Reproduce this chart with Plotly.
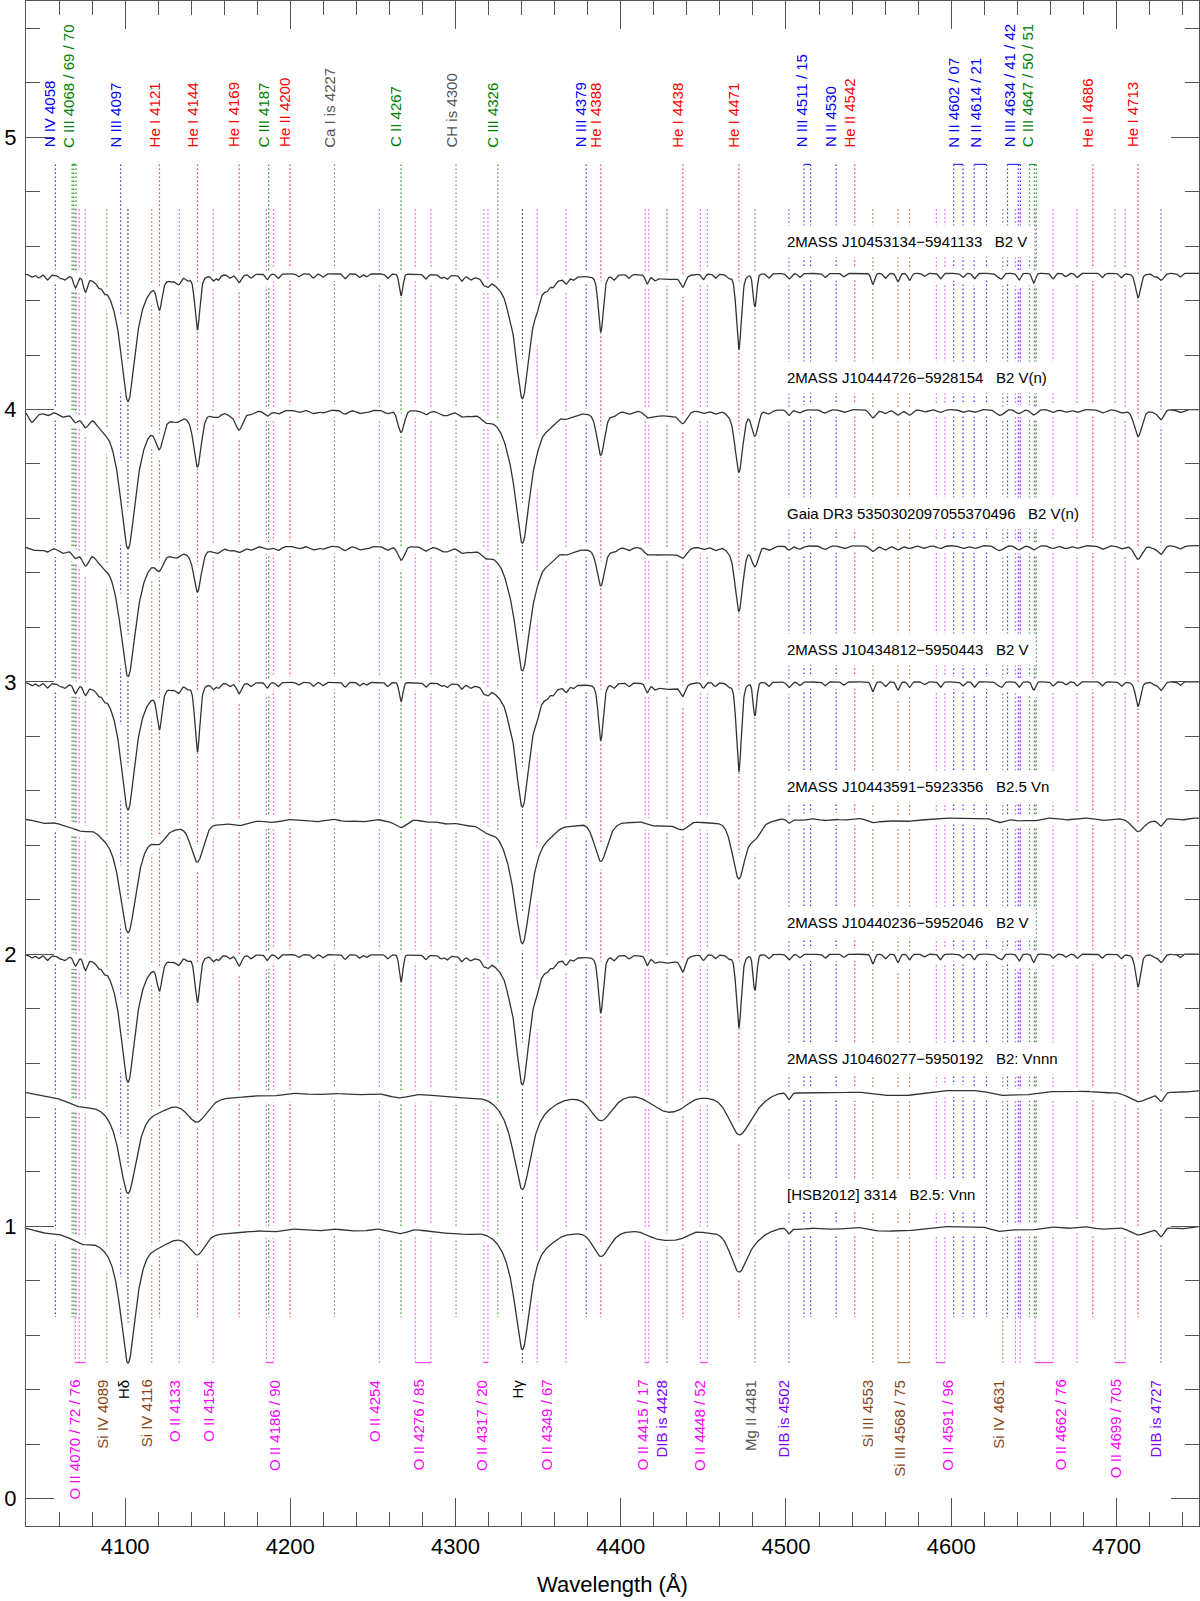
import numpy as np
import plotly.graph_objects as go

# ---- stars (top to bottom) ----
star_names = ["2MASS J10453134\u22125941133", "2MASS J10444726\u22125928154",
              "Gaia DR3 5350302097055370496", "2MASS J10434812\u22125950443",
              "2MASS J10443591\u22125923356", "2MASS J10440236\u22125952046",
              "2MASS J10460277\u22125950192", "[HSB2012] 3314"]
star_types = ["B2 V", "B2 V(n)", "B2 V(n)", "B2 V", "B2.5 Vn", "B2 V", "B2: Vnnn", "B2.5: Vnn"]
offsets = [4.5, 4.0, 3.5, 3.0, 2.5, 2.0, 1.5, 1.0]

# Balmer lines (Hdelta, Hgamma): central depth per star, Lorentz HWHM per star
balmer_wl = [4101.74, 4340.47]
balmer_depth = [[0.47, 0.46], [0.51, 0.49], [0.48, 0.46], [0.47, 0.46],
                [0.42, 0.46], [0.47, 0.48], [0.375, 0.36], [0.50, 0.45]]
balmer_hwhm = [5.5, 6.0, 6.0, 5.5, 6.5, 5.5, 7.0, 6.0]

# He I lines
hei_wl = [4120.8, 4143.76, 4168.97, 4387.93, 4437.55, 4471.5, 4713.1]
hei_depth = [[0.10, 0.20, 0.03, 0.21, 0.04, 0.28, 0.09],
             [0.10, 0.20, 0.07, 0.16, 0.04, 0.23, 0.10],
             [0.05, 0.16, 0.02, 0.14, 0.03, 0.24, 0.05],
             [0.14, 0.25, 0.04, 0.21, 0.04, 0.33, 0.09],
             [0.05, 0.15, 0.02, 0.15, 0.03, 0.22, 0.05],
             [0.10, 0.17, 0.04, 0.21, 0.05, 0.27, 0.12],
             [0.03, 0.10, 0.01, 0.10, 0.03, 0.15, 0.04],
             [0.03, 0.09, 0.01, 0.10, 0.02, 0.16, 0.03]]
hei_fwhm = [3.5, 5.5, 5.5, 3.5, 9.0, 3.5, 15.0, 12.0]

# metal lines
metal_wl = [4043.5, 4069.9, 4075.9, 4132.8, 4153.3, 4186.0, 4267.0, 4317.1, 4319.6,
            4349.4, 4366.9, 4416.0, 4450.0, 4481.2, 4552.6, 4567.8, 4574.8, 4593.5,
            4607.0, 4614.0, 4630.5, 4641.0, 4650.0, 4661.6, 4676.2, 4703.0]
metal_depth = [
    [0.01, 0.04, 0.05, 0.02, 0.02, 0.02, 0.08, 0.02, 0.02, 0.02, 0.02, 0.03, 0.02, 0.12,
     0.04, 0.03, 0.025, 0.02, 0.015, 0.02, 0.02, 0.025, 0.035, 0.02, 0.015, 0.015],
    [0.04, 0.03, 0.04, 0.01, 0.01, 0.02, 0.08, 0.01, 0.01, 0.01, 0.01, 0.02, 0.01, 0.09,
     0.03, 0.02, 0.02, 0.01, 0.01, 0.01, 0.015, 0.015, 0.02, 0.01, 0.01, 0.01],
    [0.01, 0.03, 0.05, 0.01, 0.01, 0.01, 0.05, 0.01, 0.01, 0.01, 0.01, 0.02, 0.01, 0.07,
     0.02, 0.015, 0.01, 0.01, 0.01, 0.01, 0.01, 0.015, 0.015, 0.01, 0.01, 0.01],
    [0.01, 0.03, 0.03, 0.02, 0.02, 0.02, 0.07, 0.02, 0.02, 0.02, 0.02, 0.03, 0.02, 0.12,
     0.035, 0.03, 0.02, 0.02, 0.015, 0.02, 0.02, 0.02, 0.03, 0.015, 0.015, 0.015],
    [0.0, 0.02, 0.02, 0.0, 0.0, 0.01, 0.03, 0.01, 0.01, 0.0, 0.0, 0.01, 0.01, 0.06,
     0.015, 0.01, 0.01, 0.0, 0.0, 0.0, 0.01, 0.01, 0.01, 0.0, 0.0, 0.0],
    [0.01, 0.03, 0.04, 0.02, 0.02, 0.02, 0.10, 0.02, 0.02, 0.02, 0.02, 0.03, 0.02, 0.13,
     0.035, 0.03, 0.02, 0.02, 0.015, 0.02, 0.02, 0.025, 0.03, 0.015, 0.015, 0.015],
    [0.0, 0.02, 0.02, 0.0, 0.0, 0.01, 0.02, 0.0, 0.0, 0.0, 0.0, 0.01, 0.01, 0.03,
     0.01, 0.01, 0.01, 0.0, 0.0, 0.0, 0.01, 0.01, 0.01, 0.0, 0.0, 0.0],
    [0.0, 0.02, 0.03, 0.0, 0.0, 0.01, 0.02, 0.0, 0.0, 0.0, 0.0, 0.01, 0.01, 0.03,
     0.01, 0.01, 0.01, 0.0, 0.0, 0.0, 0.01, 0.01, 0.01, 0.0, 0.0, 0.0]]
metal_fwhm = [2.5, 4.5, 4.5, 2.5, 8.0, 2.5, 14.0, 11.0]

# weak blends that give the continuum its ripple (relative strength), scaled per star
weak_wl = [4047.6, 4052.9, 4060.6, 4063.4, 4083.9, 4087.2, 4128.1, 4130.9, 4137.8, 4156.5,
           4163.3, 4176.2, 4192.5, 4205.0, 4213.9, 4219.7, 4233.1, 4241.8, 4246.0, 4258.9,
           4282.0, 4291.3, 4294.8, 4303.8, 4309.0, 4331.9, 4355.5, 4359.0, 4371.2, 4395.9,
           4405.0, 4420.6, 4457.2, 4465.4, 4489.5, 4508.3, 4523.6, 4535.0, 4560.1, 4583.8,
           4628.0, 4669.3, 4691.5, 4723.0, 4738.5]
weak_str = [0.8, 1.2, 0.7, 1.0, 0.9, 1.1, 0.6, 1.0, 0.7, 1.2, 0.8, 0.9, 1.1, 0.7, 1.0,
            0.8, 1.2, 0.9, 0.7, 1.0, 1.1, 0.8, 1.0, 1.2, 0.7, 0.9, 0.8, 1.0, 0.7, 1.1,
            0.9, 0.8, 1.0, 0.7, 1.1, 0.9, 1.0, 0.8, 1.2, 0.7, 0.9, 0.8, 1.0, 0.7, 0.9]
weak_depth = [0.015, 0.012, 0.013, 0.014, 0.008, 0.014, 0.007, 0.009]

# diffuse interstellar bands
dib_wl = [4428.0, 4501.8, 4727.0]
dib_fwhm = [18.0, 3.0, 4.0]
dib_depth = [[0.02, 0.02, 0.025], [0.02, 0.02, 0.035], [0.03, 0.015, 0.03], [0.025, 0.02, 0.03],
             [0.02, 0.015, 0.025], [0.03, 0.02, 0.03], [0.06, 0.025, 0.03], [0.04, 0.02, 0.03]]

# ---- line identifications: (label, colour key, wavelengths) ----
top_groups = [
    ("N IV 4058", "N", [4057.8]),
    ("C III 4068 / 69 / 70", "C", [4067.9, 4068.9, 4070.3]),
    ("N III 4097", "N", [4097.3]),
    ("He I 4121", "He", [4120.8]),
    ("He I 4144", "He", [4143.8]),
    ("He I 4169", "He", [4169.0]),
    ("C III 4187", "C", [4186.9]),
    ("He II 4200", "He", [4199.8]),
    ("Ca I is 4227", "gray", [4226.7]),
    ("C II 4267", "C", [4267.0]),
    ("CH is 4300", "gray", [4300.3]),
    ("C III 4326", "C", [4325.6]),
    ("N III 4379", "N", [4379.1]),
    ("He I 4388", "He", [4387.9]),
    ("He I 4438", "He", [4437.6]),
    ("He I 4471", "He", [4471.5]),
    ("N III 4511 / 15", "N", [4510.9, 4514.9]),
    ("N II 4530", "N", [4530.4]),
    ("He II 4542", "He", [4541.6]),
    ("N II 4602 / 07", "N", [4601.5, 4607.2]),
    ("N II 4614 / 21", "N", [4613.9, 4621.4]),
    ("N III 4634 / 41 / 42", "N", [4634.1, 4640.6, 4641.9]),
    ("C III 4647 / 50 / 51", "C", [4647.4, 4650.3, 4651.5]),
    ("He II 4686", "He", [4685.7]),
    ("He I 4713", "He", [4713.1]),
]
bottom_groups = [
    ("O II 4070 / 72 / 76", "O", [4069.9, 4072.2, 4075.9]),
    ("Si IV 4089", "Si", [4088.9]),
    ("H\u03b4", "H", [4101.7]),
    ("Si IV 4116", "Si", [4116.1]),
    ("O II 4133", "O", [4132.8]),
    ("O II 4154", "O", [4153.3]),
    ("O II 4186 / 90", "O", [4185.5, 4189.8]),
    ("O II 4254", "O", [4253.9]),
    ("O II 4276 / 85", "O", [4275.6, 4285.1]),
    ("O II 4317 / 20", "O", [4317.1, 4319.6]),
    ("H\u03b3", "H", [4340.5]),
    ("O II 4349 / 67", "O", [4349.4]),
    ("", "O", [4366.9]),
    ("O II 4415 / 17", "O", [4414.9, 4417.0]),
    ("DIB is 4428", "DIB", [4428.0]),
    ("O II 4448 / 52", "O", [4448.2, 4452.4]),
    ("Mg II 4481", "gray", [4481.2]),
    ("DIB is 4502", "DIB", [4501.8]),
    ("Si III 4553", "Si", [4552.6]),
    ("Si III 4568 / 75", "Si", [4567.8, 4574.8]),
    ("O II 4591 / 96", "O", [4591.0, 4596.2]),
    ("Si IV 4631", "Si", [4631.2]),
    ("", "O", [4638.9]),
    ("", "O", [4641.8]),
    ("", "O", [4650.8, 4661.6]),
    ("O II 4662 / 76", "O", [4676.2]),
    ("O II 4699 / 705", "O", [4699.2, 4705.3]),
    ("DIB is 4727", "DIB", [4727.0]),
]

colors = {"N": "#0000FF", "C": "#008000", "He": "#FF0000", "O": "#FF00FF",
          "Si": "#8B4513", "DIB": "#8000FF", "gray": "#555555", "H": "#000000"}
line_colors = {"N": "#3333FF", "C": "#229922", "He": "#FF3333", "O": "#FF44FF",
               "Si": "#A0703C", "DIB": "#9933FF", "gray": "#777777", "H": "#222222"}
label_nudge = {"O II 4186 / 90": 9, "O II 4591 / 96": 11, "O II 4349 / 67": 14,
               "O II 4662 / 76": -12}

TOP_Y0, TOP_Y1 = 4.90, 0.667
BOT_Y0, BOT_Y1 = 4.735, 0.50
FONT = "Liberation Sans, Arial, Helvetica, sans-serif"

wl = np.arange(4040.0, 4750.01, 0.25)


def gauss(x0, fwhm):
    s = fwhm / 2.3548
    return np.exp(-0.5 * ((wl - x0) / s) ** 2)


def lorentz(x0, hwhm):
    return 1.0 / (1.0 + ((wl - x0) / hwhm) ** 2)


def star_flux(i):
    f = np.ones_like(wl)
    for w, d in zip(balmer_wl, balmer_depth[i]):
        f -= d * lorentz(w, balmer_hwhm[i])
    for w, d in zip(hei_wl, hei_depth[i]):
        f -= d * (0.6 * gauss(w, hei_fwhm[i]) + 0.4 * lorentz(w, hei_fwhm[i] / 2))
    for w, d in zip(metal_wl, metal_depth[i]):
        f -= d * gauss(w, metal_fwhm[i])
    for w, s in zip(weak_wl, weak_str):
        f -= weak_depth[i] * s * gauss(w, metal_fwhm[i])
    for w, d, fw in zip(dib_wl, dib_depth[i], dib_fwhm):
        f -= d * gauss(w, fw)
    return f


fig = go.Figure()

# dotted identification lines, grouped by colour
for groups, y0, y1 in [(top_groups, TOP_Y0, TOP_Y1), (bottom_groups, BOT_Y0, BOT_Y1)]:
    per_color = {}
    for label, key, lams in groups:
        xs, ys = per_color.setdefault(key, ([], []))
        for lam in lams:
            xs += [lam, lam, None]
            ys += [y0, y1, None]
    for key, (xs, ys) in per_color.items():
        fig.add_trace(go.Scatter(x=xs, y=ys, mode="lines", hoverinfo="skip",
                                 line=dict(color=line_colors[key], width=1.2, dash="1.5px,2.5px")))
    # brackets joining multiplets
    for label, key, lams in groups:
        if len(lams) > 1:
            yb = y0 if groups is top_groups else y1
            fig.add_trace(go.Scatter(x=[min(lams), max(lams)], y=[yb, yb], mode="lines",
                                     hoverinfo="skip", line=dict(color=line_colors[key], width=1.2)))

fluxes = [star_flux(i) for i in range(len(offsets))]

# white halo under each spectrum
for i, off in enumerate(offsets):
    fig.add_trace(go.Scatter(x=wl, y=fluxes[i] + off - 1.0, mode="lines", hoverinfo="skip",
                             line=dict(color="white", width=12)))
for i, off in enumerate(offsets):
    fig.add_trace(go.Scatter(x=wl, y=fluxes[i] + off - 1.0, mode="lines",
                             line=dict(color="#333333", width=1.3), name=star_names[i]))

ann = []
for label, key, lams in top_groups:
    ann.append(dict(x=float(np.mean(lams)), y=4.955, xref="x", yref="y", text=label,
                    textangle=-90, showarrow=False, xanchor="center", yanchor="bottom",
                    xshift=-5, font=dict(family=FONT, size=15, color=colors[key])))
for label, key, lams in bottom_groups:
    if not label:
        continue
    ann.append(dict(x=float(np.mean(lams)), y=0.445, xref="x", yref="y", text=label,
                    textangle=-90, showarrow=False, xanchor="center", yanchor="top",
                    xshift=-5 + label_nudge.get(label, 0),
                    font=dict(family=FONT, size=15, color=colors[key])))
for i, off in enumerate(offsets):
    ann.append(dict(x=4500, y=off + 0.117, xref="x", yref="y",
                    text=star_names[i] + "\u00a0\u00a0\u00a0" + star_types[i],
                    showarrow=False, xanchor="left", yanchor="middle", xshift=-7,
                    bgcolor="white", borderpad=7,
                    font=dict(family=FONT, size=15, color="black")))

axis_common = dict(showline=True, linecolor="#555555", linewidth=1.3, mirror="ticks",
                   ticks="inside", ticklen=28, tickwidth=1.3, tickcolor="#555555",
                   showgrid=False, zeroline=False, automargin=False,
                   tickfont=dict(family=FONT, size=22, color="black"))

fig.update_layout(
    width=1200, height=1601,
    margin=dict(l=26, r=1, t=1, b=75),
    paper_bgcolor="white", plot_bgcolor="white",
    showlegend=False,
    annotations=ann,
    xaxis=dict(range=[4040, 4750], tick0=4000, dtick=100,
               minor=dict(dtick=20, ticks="inside", ticklen=14, tickwidth=1.3, tickcolor="#555555"),
               title=dict(text="Wavelength (\u00c5)", font=dict(family=FONT, size=22, color="black"),
                          standoff=19),
               ticklabelstandoff=0,
               **axis_common),
    yaxis=dict(range=[-0.1, 5.5], tick0=0, dtick=1,
               minor=dict(dtick=0.2, ticks="inside", ticklen=14, tickwidth=1.3, tickcolor="#555555"),
               ticklabelstandoff=4,
               **axis_common),
)

# the page's default body margin would push the figure 8 px right and down
fig.write_html("out.html", config={"displayModeBar": False},
               post_script="document.body.style.margin = '0';")
